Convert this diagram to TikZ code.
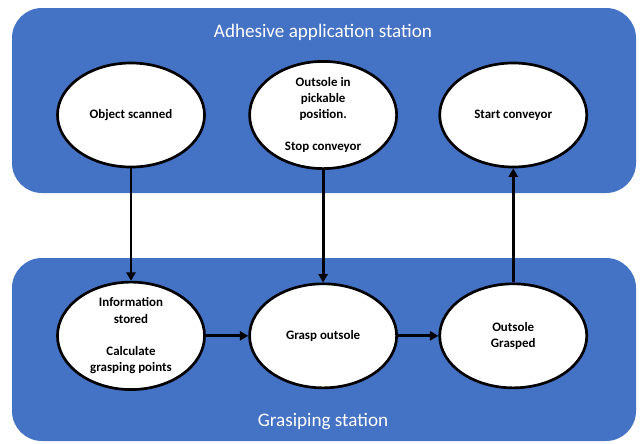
\documentclass[tikz,border=0pt]{standalone}
\usepackage{fontspec}
\setmainfont{Carlito}
\usetikzlibrary{positioning,arrows.meta,shapes.geometric}
\definecolor{stationBlue}{HTML}{4472C4}

\begin{document}
\begin{tikzpicture}[
  x=0.025cm, y=-0.025cm,
  every node/.style={font=\fontsize{9}{11.5}\selectfont},
  station/.style={fill=stationBlue, rounded corners=0.75cm},
  stationlabel/.style={text=white, font=\fontsize{13.6}{16}\selectfont},
  state/.style={ellipse, draw=black, fill=white, line width=1.9pt,
                minimum width=3.675cm, minimum height=2.6cm, inner sep=0pt,
                align=center, font=\bfseries\fontsize{9.2}{11.5}\selectfont},
  arr/.style={-{Triangle[length=6pt,width=6.5pt]}, line width=2pt}
]
  \useasboundingbox (0,0) rectangle (640,443);
  \fill[station] (12,8) rectangle (636,193);
  \fill[station] (12,258) rectangle (636,441);
  \node[stationlabel] (adhesive) at (323,32) {Adhesive application station};
  \node[stationlabel] (grasping) at (323,422) {Grasiping station};

  \node[state] (scan) at (131,115) {Object scanned};
  \node[state, right=1.06cm of scan] (pick)
        {Outsole in\\ pickable\\ position.\\[11.5pt] Stop conveyor};
  \node[state, right=1.01cm of pick] (start) {Start conveyor};
  \node[state, below=2.81cm of scan] (store)
        {Information\\ stored\\[11.5pt] Calculate\\ grasping points};
  \node[state, right=1.06cm of store] (grasp) {Grasp outsole};
  \node[state, right=1.01cm of grasp] (grasped) {Outsole\\ Grasped};

  \draw[arr] (scan) -- (store);
  \draw[arr] (pick) -- (grasp);
  \draw[arr] (grasped) -- (start);
  \draw[arr] (store) -- (grasp);
  \draw[arr] (grasp) -- (grasped);
\end{tikzpicture}
\end{document}
